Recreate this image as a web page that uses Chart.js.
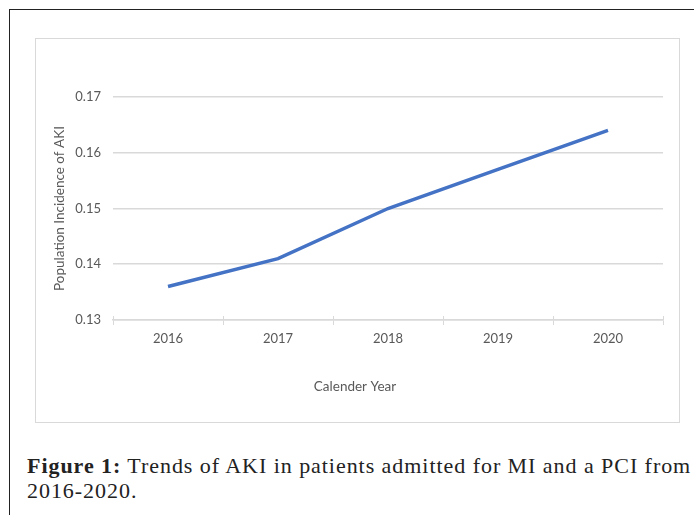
<!DOCTYPE html>
<html>
<head>
<meta charset="utf-8">
<script src="https://cdn.jsdelivr.net/npm/chart.js@4/dist/chart.umd.min.js"></script>
<style>
  html, body { margin: 0; padding: 0; background: #fff; }
  body { width: 694px; height: 515px; position: relative; overflow: hidden; }
  #frame { position: absolute; left: 9px; top: 9px; width: 700px; height: 520px;
           border-left: 1.5px solid #222; border-top: 1.5px solid #222; }
  #box { position: absolute; left: 35px; top: 38px; width: 643px; height: 383px;
         border: 1px solid #d9d9d9; background: #fff; }
  #box canvas { display: block; }
  #caption { position: absolute; left: 27px; top: 453px; width: 680px;
             font-family: "Liberation Serif", "DejaVu Serif", serif; font-size: 22px;
             letter-spacing: 0.95px; line-height: 25px; color: #222; white-space: nowrap; }
  #caption b { font-weight: bold; }
</style>
</head>
<body>
<div id="frame"></div>
<div id="box"><canvas id="c" width="643" height="383"></canvas></div>
<div id="caption"><b>Figure 1:</b> Trends of AKI in patients admitted for MI and a PCI from<br>2016-2020.</div>
<script>
const categories = ["2016", "2017", "2018", "2019", "2020"];
const incidence = [0.136, 0.141, 0.150, 0.157, 0.164];
const yTicks = [0.13, 0.14, 0.15, 0.16, 0.17];
const xTitle = "Calender Year";
const yTitle = "Population Incidence of AKI";

const textColor = "#595959";
const fontFamily = "Lato, 'Open Sans', sans-serif";

const extras = {
  id: "extras",
  afterDraw(chart) {
    const ctx = chart.ctx;
    const x = chart.scales.x;
    const area = chart.chartArea;
    // small tick marks above the axis line at category boundaries
    ctx.save();
    ctx.strokeStyle = "#d9d9d9";
    ctx.lineWidth = 1;
    const n = categories.length;
    for (let i = 0; i <= n; i++) {
      const px = Math.round(x.getPixelForValue(i - 0.5)) + 0.5;
      ctx.beginPath();
      ctx.moveTo(px, area.bottom - 4);
      ctx.lineTo(px, area.bottom);
      ctx.stroke();
    }
    // x axis title
    ctx.fillStyle = textColor;
    ctx.font = "13.5px " + fontFamily;
    ctx.textAlign = "center";
    ctx.textBaseline = "middle";
    ctx.fillText(xTitle, 319, 348);
    ctx.restore();
  }
};

new Chart(document.getElementById("c"), {
  type: "line",
  data: {
    labels: categories,
    datasets: [{
      data: incidence,
      borderColor: "#4472C4",
      backgroundColor: "#4472C4",
      borderWidth: 3.5,
      pointRadius: 0,
      tension: 0,
      fill: false
    }]
  },
  options: {
    responsive: false,
    animation: false,
    events: [],
    layout: { padding: { top: 58, right: 16, bottom: 0, left: 0 } },
    plugins: { legend: { display: false }, tooltip: { enabled: false } },
    scales: {
      x: {
        offset: true,
        afterFit(s) { s.height = 102; },
        grid: { display: true, offset: true, drawOnChartArea: false, drawTicks: true,
                tickLength: 5, color: "#d9d9d9", lineWidth: 1 },
        border: { display: true, color: "#d9d9d9", width: 1.5 },
        ticks: { color: textColor, font: { family: fontFamily, size: 13 }, padding: 6 }
      },
      y: {
        min: 0.13, max: 0.17,
        afterFit(s) { s.width = 77; },
        afterBuildTicks(s) { s.ticks = yTicks.map(v => ({ value: v })); },
        grid: { color: "#d9d9d9", lineWidth: 1.5, drawTicks: false },
        border: { display: false },
        ticks: { color: textColor, font: { family: fontFamily, size: 13 }, padding: 12,
                 callback: v => v.toFixed(2) },
        title: { display: true, text: yTitle, color: textColor,
                 font: { family: fontFamily, size: 13.5 }, padding: { top: 16, bottom: 0 } }
      }
    }
  },
  plugins: [extras]
});
</script>
</body>
</html>
